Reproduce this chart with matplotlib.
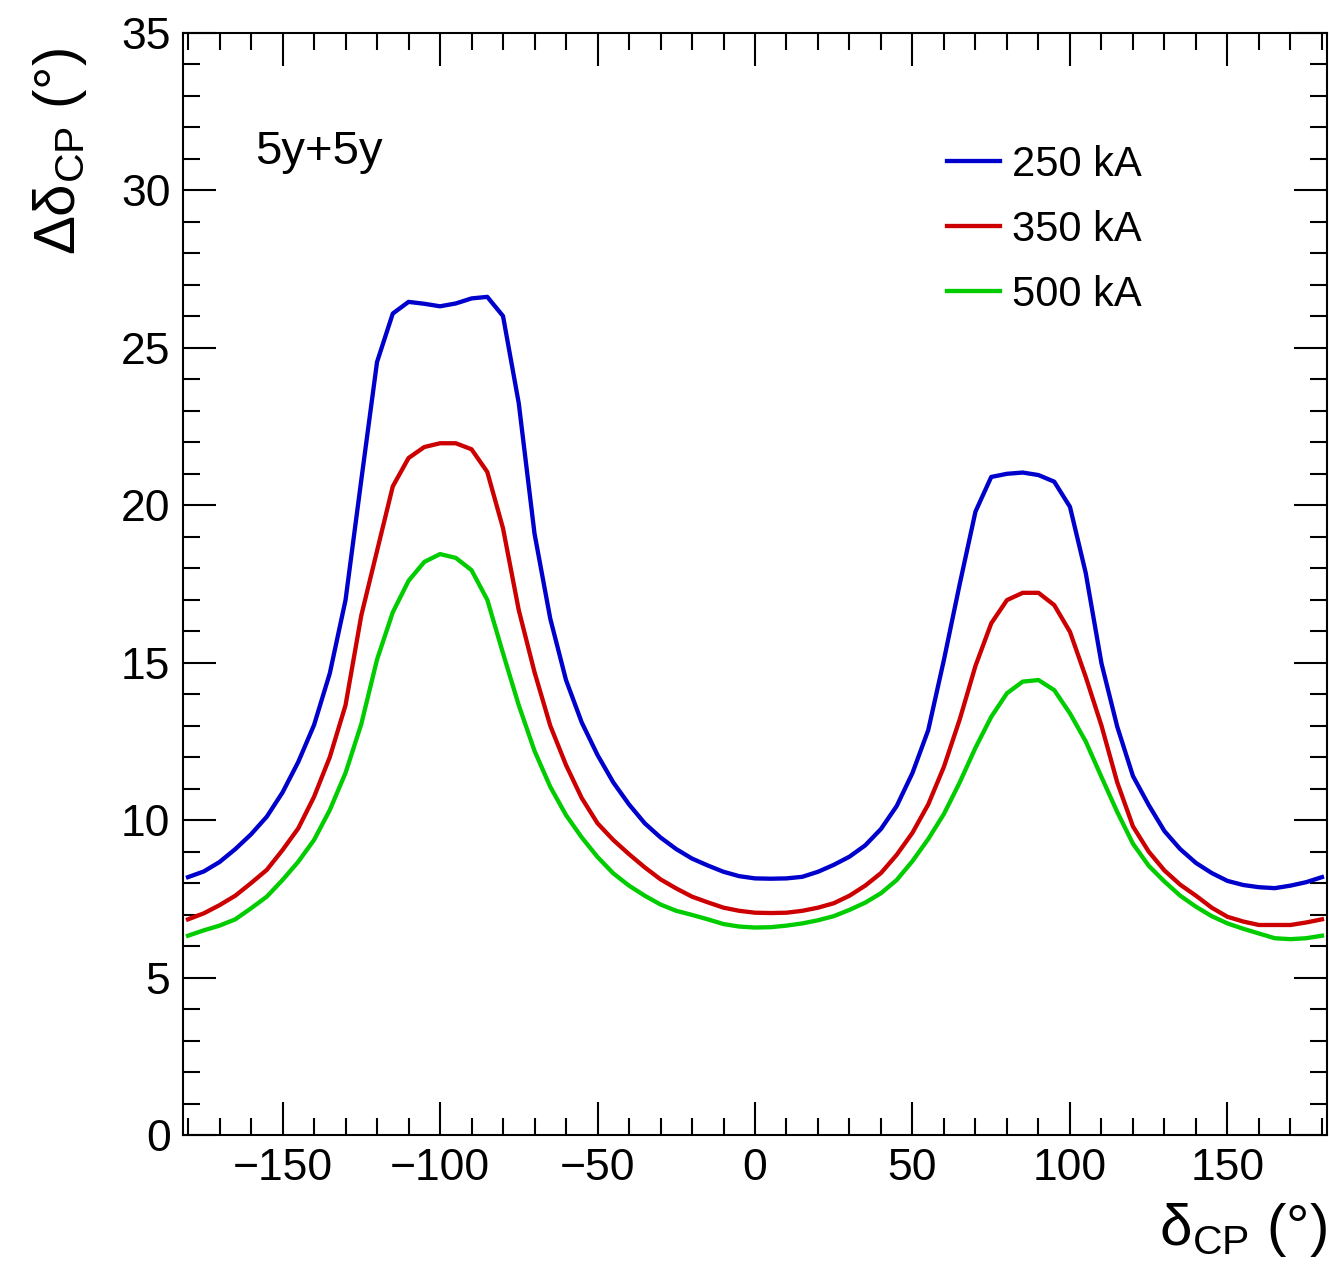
import numpy as np
import matplotlib
matplotlib.use('Agg')
import matplotlib.pyplot as plt
from matplotlib.ticker import MultipleLocator

plt.rcParams['font.family'] = ['Liberation Sans', 'DejaVu Sans']
plt.rcParams['mathtext.fontset'] = 'custom'
plt.rcParams['mathtext.rm'] = 'Liberation Sans'
plt.rcParams['mathtext.it'] = 'Liberation Sans:italic'

# delta_CP scan points (deg)
delta_cp = np.arange(-180, 181, 5)

# Delta delta_CP resolution (deg), 5y+5y
res_250kA = [8.19, 8.37, 8.67, 9.08, 9.55, 10.11, 10.88, 11.85, 13.02, 14.66,
             16.99, 20.8, 24.55, 26.09, 26.46, 26.40, 26.32, 26.41, 26.57, 26.62,
             26.01, 23.24, 19.10, 16.40, 14.45, 13.10, 12.07, 11.20, 10.50, 9.90,
             9.45, 9.08, 8.78, 8.56, 8.36, 8.22, 8.15, 8.14, 8.15, 8.20,
             8.36, 8.58, 8.84, 9.20, 9.72, 10.45, 11.50, 12.86, 15.10, 17.50,
             19.80, 20.90, 21.00, 21.04, 20.96, 20.75, 19.95, 17.85, 14.98, 12.97,
             11.40, 10.48, 9.65, 9.08, 8.64, 8.32, 8.07, 7.94, 7.87, 7.84,
             7.92, 8.03, 8.19]
res_350kA = [6.85, 7.04, 7.30, 7.60, 8.00, 8.42, 9.05, 9.74, 10.74, 12.00,
             13.65, 16.50, 18.55, 20.60, 21.50, 21.85, 21.97, 21.97, 21.78, 21.06,
             19.27, 16.67, 14.70, 13.00, 11.75, 10.70, 9.90, 9.37, 8.92, 8.50,
             8.12, 7.83, 7.57, 7.39, 7.22, 7.12, 7.06, 7.05, 7.06, 7.12,
             7.22, 7.36, 7.60, 7.92, 8.32, 8.90, 9.60, 10.50, 11.70, 13.20,
             14.90, 16.25, 16.99, 17.22, 17.22, 16.83, 15.98, 14.55, 13.00, 11.20,
             9.80, 9.00, 8.40, 7.95, 7.60, 7.22, 6.93, 6.78, 6.67, 6.67,
             6.67, 6.75, 6.85]
res_500kA = [6.33, 6.50, 6.65, 6.85, 7.20, 7.57, 8.10, 8.68, 9.37, 10.32,
             11.50, 13.05, 15.10, 16.60, 17.60, 18.20, 18.45, 18.33, 17.94, 17.00,
             15.30, 13.65, 12.20, 11.06, 10.16, 9.45, 8.83, 8.31, 7.92, 7.60,
             7.32, 7.12, 6.99, 6.85, 6.70, 6.62, 6.59, 6.60, 6.65, 6.72,
             6.82, 6.95, 7.15, 7.38, 7.68, 8.10, 8.70, 9.40, 10.20, 11.20,
             12.30, 13.28, 14.03, 14.40, 14.45, 14.13, 13.39, 12.50, 11.37, 10.26,
             9.25, 8.55, 8.05, 7.60, 7.25, 6.95, 6.72, 6.55, 6.40, 6.25,
             6.22, 6.25, 6.33]

series = [('250 kA', res_250kA, '#0000cc'),
          ('350 kA', res_350kA, '#cc0000'),
          ('500 kA', res_500kA, '#00cc00')]

W, H = 1330, 1267
fig = plt.figure(figsize=(W/100, H/100), dpi=100)
ax = fig.add_axes([183/W, 1-1135/H, (1327-183)/W, (1135-33)/H])

for name, vals, col in series:
    ax.plot(delta_cp, vals, color=col, lw=3.1, label=name)

ax.set_xlim(-181.6, 181.6)
ax.set_ylim(0, 35)
ax.xaxis.set_major_locator(MultipleLocator(50))
ax.xaxis.set_minor_locator(MultipleLocator(10))
ax.yaxis.set_major_locator(MultipleLocator(5))
ax.yaxis.set_minor_locator(MultipleLocator(1))
ax.tick_params(which='both', direction='in', top=True, right=True, width=1.5,
               labelsize=32, pad=9)
ax.tick_params(which='major', length=23.5)
ax.tick_params(which='minor', length=12)
for s in ax.spines.values():
    s.set_linewidth(1.5)

fig.text(1327/W, 1-1230/H, r'$\mathrm{\delta_{CP}}$ (°)', ha='right', va='center', fontsize=42)
fig.text(60/W, 1-48/H, r'$\mathrm{\Delta\delta_{CP}}$ (°)', ha='center', va='top',
         rotation=90, fontsize=42)
fig.text(255/W, 1-152/H, '5y+5y', ha='left', va='center', fontsize=34)

ax.legend(loc='upper left', bbox_to_anchor=(947/W, 1-145/H), bbox_transform=fig.transFigure,
          frameon=False, fontsize=30, handlelength=1.27, handletextpad=0.3,
          labelspacing=0.6, borderpad=0, borderaxespad=0)

fig.savefig('out.png', dpi=100)
